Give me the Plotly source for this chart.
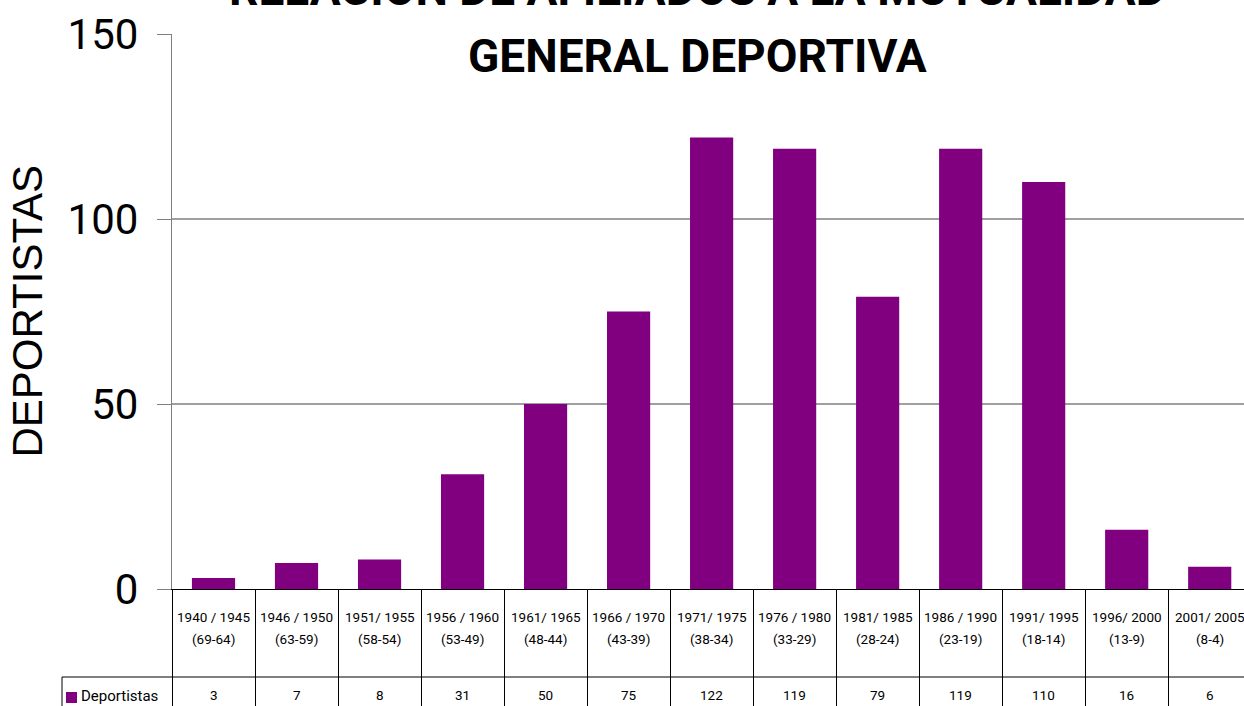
import plotly.graph_objects as go

categories = ["1940 / 1945", "1946 / 1950", "1951/ 1955", "1956 / 1960", "1961/ 1965",
              "1966 / 1970", "1971/ 1975", "1976 / 1980", "1981/ 1985", "1986 / 1990",
              "1991/ 1995", "1996/ 2000", "2001/ 2005"]
ages = ["(69-64)", "(63-59)", "(58-54)", "(53-49)", "(48-44)", "(43-39)", "(38-34)",
        "(33-29)", "(28-24)", "(23-19)", "(18-14)", "(13-9)", "(8-4)"]
values = [3, 7, 8, 31, 50, 75, 122, 119, 79, 119, 110, 16, 6]
series_name = "Deportistas"
y_ticks = [0, 50, 100, 150]
grid_values = [50, 100]
title_lines = ["RELACIÓN DE AFILIADOS A LA MUTUALIDAD", "GENERAL DEPORTIVA"]
y_title = "DEPORTISTAS"

PURPLE = "#800080"
NARROW = "Roboto, Liberation Sans, sans-serif"
W, H = 1244, 706
L, T, B = 172, 34, 117
plot_w = W - L
plot_h = H - T - B


def px_x(p):
    return (p - L) / plot_w


def px_y(p):
    return (H - B - p) / plot_h


fig = go.Figure()
fig.add_trace(go.Bar(x=categories, y=values, name=series_name,
                     marker=dict(color=PURPLE, line=dict(width=0)),
                     showlegend=False))

shapes = []
for g in grid_values:
    shapes.append(dict(type="line", xref="paper", yref="y", x0=0, x1=1, y0=g, y1=g,
                       line=dict(color="#7f7f7f", width=1.3), layer="below"))
# table horizontal separator and legend cell border
yrow = px_y(677)
ybot = px_y(H + 5)
xleg = px_x(62)
shapes.append(dict(type="line", xref="paper", yref="paper", x0=xleg, x1=1, y0=yrow, y1=yrow,
                   line=dict(color="black", width=1)))
shapes.append(dict(type="line", xref="paper", yref="paper", x0=xleg, x1=xleg, y0=yrow, y1=ybot,
                   line=dict(color="black", width=1)))
# legend key
shapes.append(dict(type="rect", xref="paper", yref="paper", x0=px_x(66), x1=px_x(77),
                   y0=px_y(703), y1=px_y(692), fillcolor=PURPLE, line=dict(width=0)))

annotations = []
for c, a, v in zip(categories, ages, values):
    for txt, shift in ((c, -28), (a, -50)):
        annotations.append(dict(x=c, xref="x", y=0, yref="paper", yshift=shift,
                                yanchor="middle", text=txt, showarrow=False,
                                font=dict(family=NARROW, size=13.5, color="black")))
    annotations.append(dict(x=c, xref="x", y=0, yref="paper", yshift=-106, yanchor="middle",
                            text=str(v), showarrow=False,
                            font=dict(family=NARROW, size=13.5, color="black")))
annotations.append(dict(x=px_x(79), xref="paper", xanchor="left", y=0, yref="paper",
                        yshift=-107, yanchor="middle", text=series_name, showarrow=False,
                        font=dict(family=NARROW, size=15, color="black")))
for txt, ypx in zip(title_lines, [-11, 56]):
    annotations.append(dict(x=px_x(697), xref="paper", xanchor="center", y=px_y(ypx),
                            yref="paper", yanchor="middle", text=f"<b>{txt}</b>",
                            showarrow=False,
                            font=dict(family=NARROW, size=46, color="black")))
annotations.append(dict(x=px_x(27), xref="paper", xanchor="center", y=0.5, yref="paper",
                        yanchor="middle", text=y_title, textangle=-90, showarrow=False,
                        font=dict(family="Liberation Sans, Arial, sans-serif", size=42,
                                  color="black")))

fig.update_layout(
    width=W, height=H,
    margin=dict(l=L, r=0, t=T, b=B, pad=0, autoexpand=False),
    paper_bgcolor="white", plot_bgcolor="white",
    bargap=0.48,
    shapes=shapes, annotations=annotations,
    xaxis=dict(type="category", range=[-0.5, len(categories) - 0.587],
               showticklabels=False, ticks="outside", tickson="boundaries",
               ticklen=B + 5, tickcolor="black", tickwidth=1,
               showline=True, linecolor="black", linewidth=1.3,
               showgrid=False, zeroline=False, fixedrange=True, automargin=False),
    yaxis=dict(range=[0, 150], tickvals=y_ticks, ticks="outside", ticklen=14,
               tickcolor="#7f7f7f", tickwidth=1.3,
               showline=True, linecolor="#7f7f7f", linewidth=1.3,
               showgrid=False, zeroline=False, automargin=False,
               tickfont=dict(family=NARROW, size=42, color="black"),
               ticklabelstandoff=10),
)

fig.write_html("out.html",
               config={"displayModeBar": False},
               post_script="document.body.style.margin='0px';"
                           "document.body.style.overflow='hidden';")
